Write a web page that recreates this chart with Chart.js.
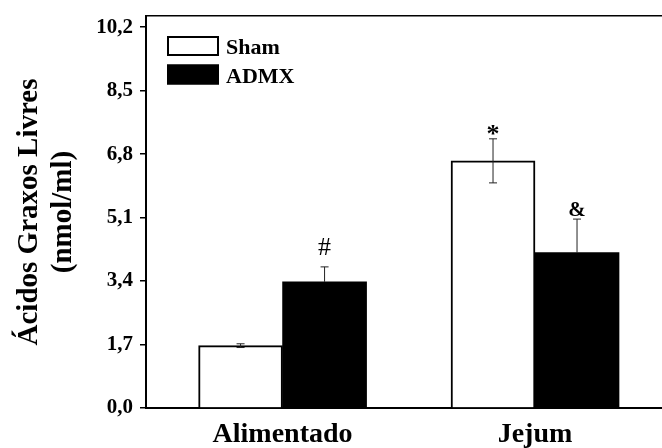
<!DOCTYPE html>
<html>
<head>
<meta charset="utf-8">
<script src="https://cdn.jsdelivr.net/npm/chart.js@4"></script>
<style>
  body { margin: 0; background: #fff; }
</style>
</head>
<body>
<canvas id="fattyChart" width="662" height="448"></canvas>
<script>
// data
const groups = ["Alimentado", "Jejum"];
const groupPos = [1, 2];
const seriesNames = ["Sham", "ADMX"];
const shamValues = [1.67, 6.62];
const shamErrors = [0.05, 0.59];
const admxValues = [3.38, 4.16];
const admxErrors = [0.40, 0.90];
const shamMarks = ["", "*"];
const admxMarks = ["#", "&"];
const yTicks = [0, 1.7, 3.4, 5.1, 6.8, 8.5, 10.2];

const serif = "'Liberation Serif', 'Times New Roman', serif";
const xMin = 0.459, xMax = 2.503;

// error bars + significance marks
const errorBars = {
  id: "errorBars",
  afterDatasetsDraw(chart) {
    const ctx = chart.ctx;
    const y = chart.scales.y;
    chart.data.datasets.forEach((ds, i) => {
      const meta = chart.getDatasetMeta(i);
      const dark = ds.backgroundColor === "#000000";
      meta.data.forEach((bar, j) => {
        const v = ds.data[j].y;
        const e = ds.errors[j];
        const top = y.getPixelForValue(v + e);
        const bot = dark ? y.getPixelForValue(v) : y.getPixelForValue(v - e);
        ctx.save();
        ctx.strokeStyle = "#222";
        ctx.lineWidth = 1;
        ctx.beginPath();
        ctx.moveTo(bar.x, top); ctx.lineTo(bar.x, bot);
        ctx.moveTo(bar.x - 4, top); ctx.lineTo(bar.x + 4, top);
        if (!dark) { ctx.moveTo(bar.x - 4, bot); ctx.lineTo(bar.x + 4, bot); }
        ctx.stroke();
        const m = ds.marks[j];
        if (m) {
          ctx.fillStyle = "#000";
          ctx.textAlign = "center";
          ctx.textBaseline = "alphabetic";
          if (m === "#") {
            ctx.font = "normal 26px " + serif;
            ctx.fillText(m, bar.x, top - 12);
          } else if (m === "*") {
            ctx.font = "bold 26px " + serif;
            ctx.fillText(m, bar.x, top + 3);
          } else {
            ctx.font = "bold 21px " + serif;
            ctx.fillText(m, bar.x, top - 3);
          }
        }
        ctx.restore();
      });
    });
  }
};

// legend drawn inside the plot frame, top-left
const innerLegend = {
  id: "innerLegend",
  afterDatasetsDraw(chart) {
    const ctx = chart.ctx;
    const area = chart.chartArea;
    chart.data.datasets.forEach((ds, i) => {
      const x = area.left + 21;
      const y = area.top + 20 + i * 28.5;
      ctx.save();
      ctx.fillStyle = ds.backgroundColor;
      ctx.fillRect(x, y, 52, 20);
      ctx.strokeStyle = "#000";
      ctx.lineWidth = 2;
      ctx.strokeRect(x + 1, y + 1, 50, 18);
      ctx.fillStyle = "#000";
      ctx.font = "bold 22px " + serif;
      ctx.textBaseline = "alphabetic";
      ctx.fillText(ds.label, x + 59, y + 18);
      ctx.restore();
    });
  }
};

new Chart(document.getElementById("fattyChart"), {
  type: "bar",
  data: {
    datasets: [
      {
        label: seriesNames[0],
        data: shamValues.map((v, i) => ({ x: groupPos[i], y: v })),
        errors: shamErrors,
        marks: shamMarks,
        backgroundColor: "#ffffff",
        borderColor: "#000000",
        borderWidth: 2,
        barThickness: 84
      },
      {
        label: seriesNames[1],
        data: admxValues.map((v, i) => ({ x: groupPos[i], y: v })),
        errors: admxErrors,
        marks: admxMarks,
        backgroundColor: "#000000",
        borderColor: "#000000",
        borderWidth: 0,
        barThickness: 84
      }
    ]
  },
  options: {
    responsive: false,
    devicePixelRatio: 1,
    animation: false,
    layout: { padding: { left: 5, top: 16, right: 0, bottom: 0 } },
    plugins: { legend: { display: false }, tooltip: { enabled: false } },
    scales: {
      x: {
        type: "linear",
        offset: false,
        min: xMin,
        max: xMax,
        afterBuildTicks: s => { s.ticks = groupPos.map(v => ({ value: v })); },
        afterFit: s => { s.height = 40; s.paddingLeft = 0; s.paddingRight = 0; },
        grid: { drawOnChartArea: false, drawTicks: false },
        border: { color: "#000", width: 2 },
        ticks: {
          autoSkip: false,
          maxRotation: 0,
          padding: 10,
          color: "#000",
          font: { family: serif, size: 28, weight: "bold" },
          callback: v => groups[groupPos.indexOf(v)] || ""
        }
      },
      x2: {
        type: "linear",
        position: "top",
        offset: false,
        min: xMin,
        max: xMax,
        afterFit: s => { s.height = 0; },
        grid: { display: false },
        ticks: { display: false },
        border: { color: "#000", width: 1.5 }
      },
      y: {
        min: 0,
        max: 10.5,
        afterBuildTicks: s => { s.ticks = yTicks.map(v => ({ value: v })); },
        afterFit: s => { s.width = 141; s.paddingTop = 0; s.paddingBottom = 0; },
        grid: { drawOnChartArea: false, drawTicks: true, tickLength: 6, tickColor: "#000", lineWidth: 1.5 },
        border: { color: "#000", width: 2 },
        ticks: {
          padding: 7,
          color: "#000",
          font: { family: serif, size: 21, weight: "bold" },
          callback: v => v.toFixed(1).replace(".", ",")
        },
        title: {
          display: true,
          text: ["Ácidos Graxos Livres", "(nmol/ml)"],
          color: "#000",
          padding: { top: 8, bottom: 0 },
          font: { family: serif, size: 29, weight: "bold", lineHeight: 1.16 }
        }
      }
    }
  },
  plugins: [errorBars, innerLegend]
});
</script>
</body>
</html>
